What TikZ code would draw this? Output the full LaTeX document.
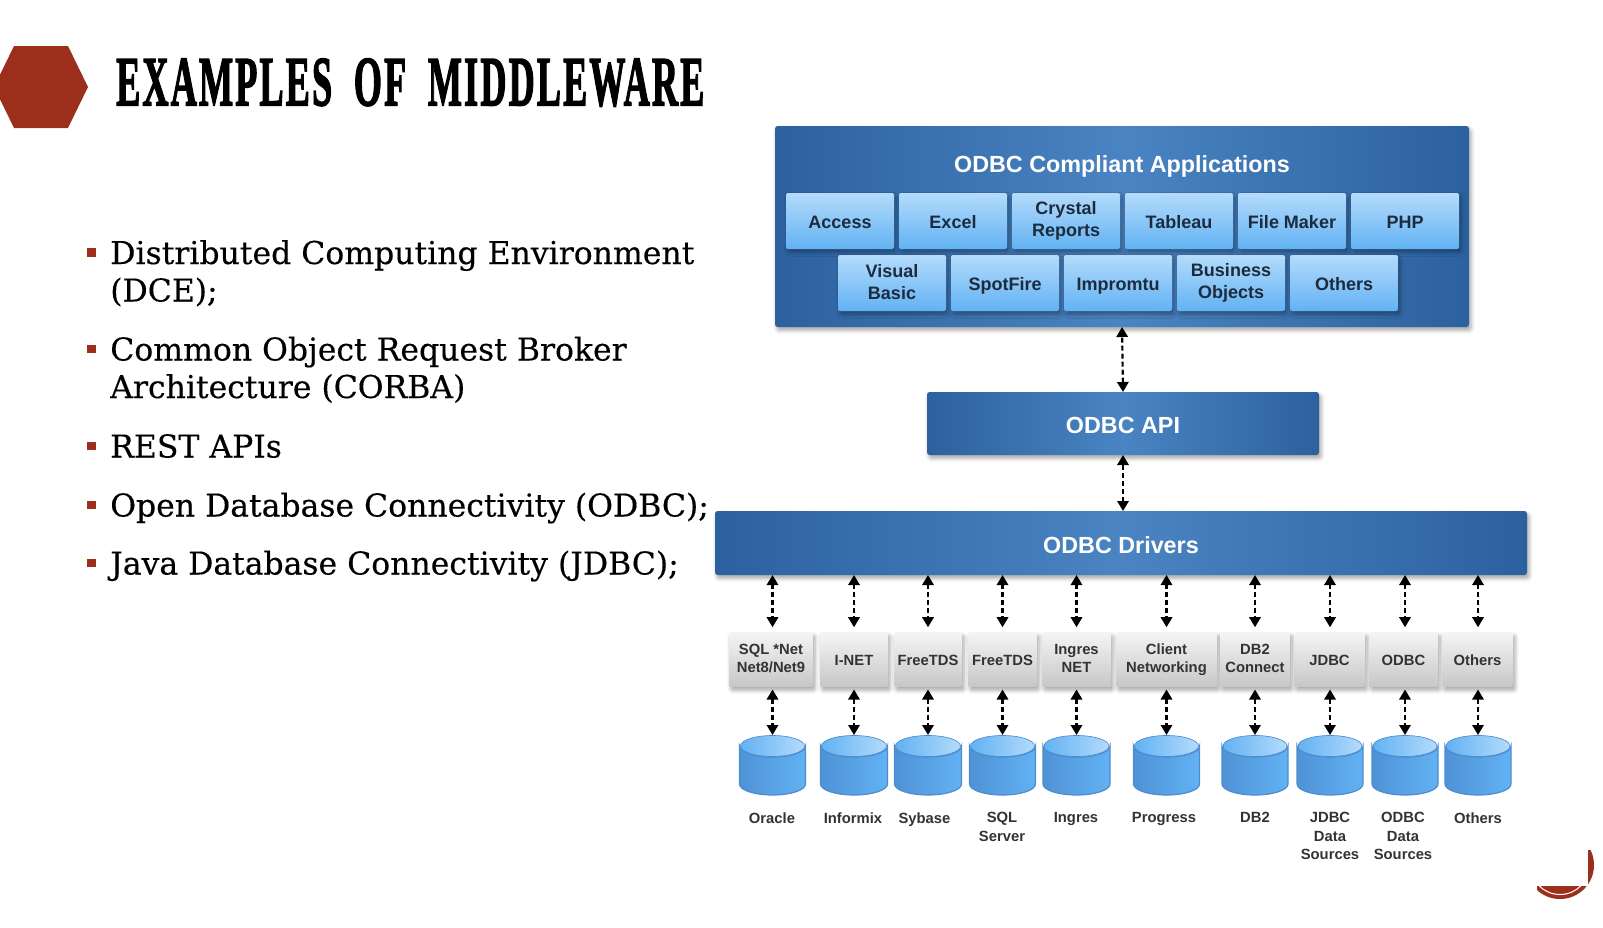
\documentclass[tikz,border=0pt]{standalone}
\usepackage{fontspec}
\usepackage{graphicx}
\setmainfont{DejaVu Serif}
\setsansfont{Liberation Sans}
\newfontfamily\titlefont[FakeBold=2.5,LetterSpace=6]{Liberation Serif Bold}
\newfontfamily\bulletfont[FakeBold=0.35]{DejaVu Serif}
\usetikzlibrary{shadows.blur,arrows.meta}
\definecolor{rust}{HTML}{9C2E1C}
\definecolor{bandDark}{HTML}{2C619F}
\definecolor{bandMid}{HTML}{4A84C2}
\definecolor{appTop}{HTML}{B4DBFB}
\definecolor{appBot}{HTML}{62B2F3}
\definecolor{inkDark}{HTML}{1C2B3E}
\definecolor{inkGrey}{HTML}{333333}
\definecolor{dbLine}{HTML}{4C8CCF}
\definecolor{dbLeft}{HTML}{4F92D6}
\newcommand{\capstrut}{\rule[-0.12em]{0pt}{1.116em}}
\tikzset{
  softshadow/.style={blur shadow={shadow xshift=1.5pt,shadow yshift=-2.5pt,shadow blur radius=3pt,shadow opacity=35}},
  strutted/.style={execute at begin node=\capstrut,execute at end node=\capstrut},
  bandbox/.style={rectangle,rounded corners=2pt,left color=bandDark,right color=bandDark,middle color=bandMid,
    text=white,font=\sffamily\bfseries\fontsize{17.5}{21}\selectfont,inner sep=0pt,outer sep=0pt,strutted,softshadow},
  appbox/.style={rectangle,rounded corners=1.5pt,top color=appTop,bottom color=appBot,text=inkDark,align=center,
    minimum width=81pt,minimum height=42pt,inner sep=0pt,outer sep=0pt,
    font=\sffamily\bfseries\fontsize{13.5}{16.9}\selectfont,strutted,softshadow},
  midbox/.style={rectangle,rounded corners=1pt,top color=white!96!black,bottom color=black!22,text=inkGrey,align=center,
    minimum height=41pt,inner sep=0pt,outer sep=0pt,
    font=\sffamily\bfseries\fontsize{11.1}{13.8}\selectfont,strutted,softshadow},
  dbnode/.style={rectangle,minimum height=45pt,inner sep=0pt,outer sep=0pt},
  dbbody/.style={draw=dbLine,line width=.9pt,left color=dbLeft,right color=appBot},
  dbcap/.style={left color=appBot,right color=appTop,draw=dbLine,line width=.5pt},
  dblabel/.style={anchor=north,align=center,text=inkGrey,inner sep=0pt,
    font=\sffamily\bfseries\fontsize{11.1}{13.8}\selectfont},
  dblarrow/.style={draw=black,line width=1.6pt,dash pattern=on 3.6pt off 2.4pt,{Triangle[length=7.5pt,width=8.5pt]}-{Triangle[length=7.5pt,width=8.5pt]}},
  bulletmark/.style={rectangle,fill=rust,minimum size=6.5pt,inner sep=0pt},
  bullettext/.style={anchor=base west,inner sep=0pt,text=black,font=\bulletfont\fontsize{23.6}{28}\selectfont}
}
\begin{document}
\begin{tikzpicture}[x=0.75pt,y=-0.75pt]
  \useasboundingbox (0,0) rectangle (1603,928);
  % header
  \fill[rust] (14,46)--(68,46)--(88,87)--(68,128)--(14,128)--(-6,87)--cycle;
  \node[anchor=west,inner sep=0pt] (title) at (116,82.5)
    {\resizebox{441pt}{35pt}{\titlefont EXAMPLES\hspace{.6em}OF\hspace{.6em}MIDDLEWARE}};
  % blue bands
  \node[bandbox,minimum width=694*0.75pt,minimum height=201*0.75pt] (apps) at (1122,226.5) {};
  \node[anchor=center,text=white,inner sep=0pt,strutted,font=\sffamily\bfseries\fontsize{17.5}{21}\selectfont] (appstitle) at (1122,163.5) {ODBC Compliant Applications};
  \node[bandbox,minimum width=392*0.75pt,minimum height=63*0.75pt] (api) at (1123,423.5) {ODBC API};
  \node[bandbox,minimum width=812*0.75pt,minimum height=64*0.75pt] (drv) at (1121,543) {ODBC Drivers};
  % applications
  \foreach \n/\x/\txt in {a1/840/Access,a2/953/Excel,a3/1066/{Crystal\\Reports},a4/1179/Tableau,a5/1292/File Maker,a6/1405/PHP}
    \node[appbox] (\n) at (\x,221) {\txt};
  \foreach \n/\x/\txt in {b1/892/{Visual\\Basic},b2/1005/SpotFire,b3/1118/Impromtu,b4/1231/{Business\\Objects},b5/1344/Others}
    \node[appbox] (\n) at (\x,283) {\txt};
  % drivers
  \foreach \i/\x/\w/\txt in {1/771/84/{SQL *Net\\Net8/Net9},2/854/68/I-NET,3/928/68/FreeTDS,4/1002.5/69/FreeTDS,5/1076.5/69/{Ingres\\NET},6/1166.5/101/{Client\\Networking},7/1255/70/{DB2\\Connect},8/1329.5/71/JDBC,9/1403.5/69/ODBC,10/1477.5/71/Others}
    \node[midbox,minimum width=\w*0.75pt] (m\i) at (\x,659.5) {\txt};
  % databases
  \foreach \i/\x/\lx/\w/\txt in {1/772.5/772/66/Oracle,2/854/853/67/Informix,3/928/924.5/67/Sybase,4/1002.5/1002/66/{SQL\\Server},5/1076.5/1076/67/Ingres,6/1166.5/1164/66/Progress,7/1255/1255/66/DB2,8/1330/1330/66/{JDBC\\Data\\Sources},9/1405/1403/66/{ODBC\\Data\\Sources},10/1478/1478/66/Others}{
    \node[dbnode,minimum width=\w*0.75pt] (db\i) at (\x,765) {};
    \draw[dbbody] (db\i.north west) ++(0,11) -- ++(0,38) arc[start angle=180,end angle=0,x radius=\w/2,y radius=11] -- ++(0,-38) arc[start angle=0,end angle=180,x radius=\w/2,y radius=11] -- cycle;
    \shade[dbcap] (\x,746) ellipse (\w/2-1 and 10.5);
    \node[dblabel] (lab\i) at (\lx,812) {\txt};
  }
  % connectors
  \draw[dblarrow] (api.north) -- (apps.south);
  \draw[dblarrow] (drv.north -| api.south) -- (api.south);
  \foreach \i in {1,...,10}{
    \draw[dblarrow,shorten >=3.7pt] (drv.south -| db\i.north) -- (m\i.north -| db\i.north);
    \draw[dblarrow,shorten <=2pt] (m\i.south -| db\i.north) -- (db\i.north);
  }
  % bullets
  \foreach \y/\txt in {252.5/Distributed Computing Environment,349/Common Object Request Broker,446/REST APIs,505/Open Database Connectivity (ODBC);,563/Java Database Connectivity (JDBC);}{
    \node[bulletmark] at (91.5,\y) {};
    \node[bullettext] at (110,{\y+11.5}) {\txt};
  }
  \node[bullettext] (dce) at (110,301.5) {(DCE);};
  \node[bullettext] (corba) at (110,398) {Architecture (CORBA)};
  % corner mark
  \begin{scope}
    \clip (1537,886) rectangle (1600,905);
    \fill[rust] (1560,865) circle (34);
    \draw[white,line width=.8pt] (1560,865) circle (29.5);
  \end{scope}
  \begin{scope}
    \clip (1588,850) rectangle (1600,884);
    \fill[rust] (1560,865) circle (34);
  \end{scope}
\end{tikzpicture}
\end{document}
